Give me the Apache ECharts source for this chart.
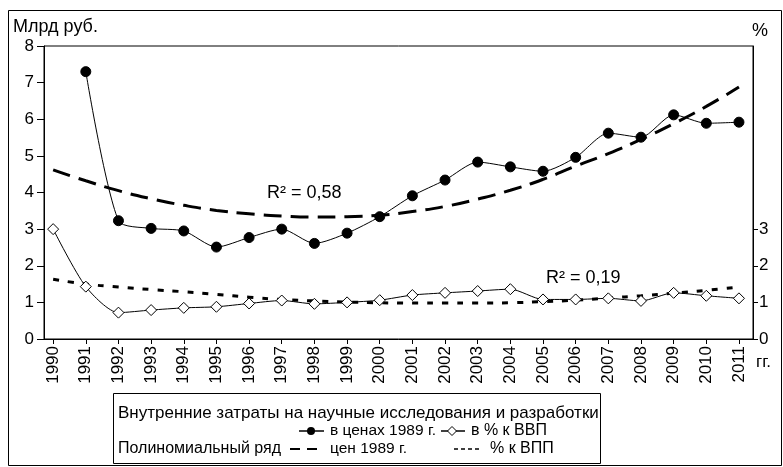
<!DOCTYPE html>
<html>
<head>
<meta charset="UTF-8">
<title>Внутренние затраты на НИОКР</title>
<script src="https://cdn.jsdelivr.net/npm/echarts@6/dist/echarts.min.js"></script>
<style>
  html, body { margin: 0; padding: 0; background: #fff; }
  #main { width: 783px; height: 467px; }
</style>
</head>
<body>
<div id="main"></div>
<script>
// годы
var years = [1990, 1991, 1992, 1993, 1994, 1995, 1996, 1997, 1998, 1999, 2000,
             2001, 2002, 2003, 2004, 2005, 2006, 2007, 2008, 2009, 2010, 2011];
// млрд руб. в ценах 1989 г. (за 1990 нет точки)
var costs = [null, 7.30, 3.23, 3.02, 2.95, 2.51, 2.77, 3.00, 2.61, 2.89, 3.34,
             3.91, 4.34, 4.83, 4.70, 4.58, 4.96, 5.62, 5.51, 6.12, 5.89, 5.92];
// в % к ВВП
var pctGdp = [3.00, 1.43, 0.72, 0.79, 0.85, 0.88, 0.97, 1.05, 0.96, 1.00, 1.06,
              1.20, 1.26, 1.31, 1.36, 1.08, 1.08, 1.11, 1.04, 1.26, 1.18, 1.11];
// полиномиальный тренд (цены 1989 г.)
var trendCost = [4.62, 4.32, 4.05, 3.83, 3.65, 3.51, 3.42, 3.36, 3.33, 3.34, 3.38,
                 3.48, 3.62, 3.82, 4.06, 4.36, 4.72, 5.06, 5.45, 5.88, 6.35, 6.88];
// полиномиальный тренд (% к ВВП)
var trendPct = [1.63, 1.50, 1.42, 1.35, 1.29, 1.22, 1.14, 1.08, 1.04, 1.01, 0.99,
                0.98, 0.98, 0.98, 0.99, 1.02, 1.06, 1.12, 1.18, 1.25, 1.33, 1.42];
var leftTicks = [0, 1, 2, 3, 4, 5, 6, 7, 8];
var rightTicks = [0, 1, 2, 3];

function pairs(arr) {
  var out = [];
  for (var i = 0; i < years.length; i++) {
    if (arr[i] != null) out.push([years[i], arr[i]]);
  }
  return out;
}

var FONT = '"Liberation Sans", Arial, sans-serif';
function txt(s, x, y, size, align) {
  return {
    type: 'text', silent: true,
    style: {
      text: s, x: x, y: y, fontFamily: FONT, fontSize: size || 16, fill: '#000',
      align: align || 'left', verticalAlign: 'middle'
    }
  };
}

var myChart = echarts.init(document.getElementById('main'));

var option = {
  animation: false,
  backgroundColor: '#fff',
  textStyle: { fontFamily: FONT },
  grid: {
    left: 44, top: 46, right: 30, bottom: 128,
    show: true, borderColor: '#000', borderWidth: 1, backgroundColor: 'transparent'
  },
  xAxis: {
    type: 'value',
    min: 1989.72,
    max: 2011.43,
    splitLine: { show: false },
    axisLine: { lineStyle: { color: '#000', width: 1 } },
    axisTick: { show: true, length: 5, customValues: years, lineStyle: { color: '#000' } },
    axisLabel: {
      customValues: years, rotate: 90, margin: 7,
      fontFamily: FONT, fontSize: 17, color: '#000',
      formatter: function(v) { return String(Math.round(v)); }
    }
  },
  yAxis: [{
    type: 'value', min: 0, max: 8, interval: 1, position: 'left',
    splitLine: { show: false },
    axisLine: { show: true, lineStyle: { color: '#000', width: 1 } },
    axisTick: { show: true, length: 7, customValues: leftTicks, lineStyle: { color: '#000' } },
    axisLabel: { customValues: leftTicks, margin: 10, fontFamily: FONT, fontSize: 17, color: '#000' }
  }, {
    type: 'value', min: 0, max: 8, interval: 1, position: 'right',
    splitLine: { show: false },
    axisLine: { show: true, lineStyle: { color: '#000', width: 1 } },
    axisTick: { show: true, length: 5, customValues: rightTicks, lineStyle: { color: '#000' } },
    axisLabel: { customValues: rightTicks, margin: 6, fontFamily: FONT, fontSize: 17, color: '#000' }
  }],
  series: [{
    name: 'цен 1989 г.',
    type: 'line', yAxisIndex: 0, smooth: true, symbol: 'none',
    lineStyle: { color: '#000', width: 3, type: [18, 9] },
    data: pairs(trendCost), z: 2
  }, {
    name: '% к ВПП',
    type: 'line', yAxisIndex: 1, smooth: true, symbol: 'none',
    lineStyle: { color: '#000', width: 3, type: [6, 9] },
    data: pairs(trendPct), z: 2
  }, {
    name: 'в ценах 1989 г.',
    type: 'line', yAxisIndex: 0, smooth: 0.25,
    symbol: 'circle', symbolSize: 10,
    itemStyle: { color: '#000', borderColor: '#000' },
    lineStyle: { color: '#000', width: 1 },
    data: pairs(costs), z: 3
  }, {
    name: 'в % к ВВП',
    type: 'line', yAxisIndex: 1, smooth: 0.25,
    symbol: 'diamond', symbolSize: 11,
    itemStyle: { color: '#fff', borderColor: '#000', borderWidth: 1 },
    lineStyle: { color: '#000', width: 1 },
    data: pairs(pctGdp), z: 3
  }],
  graphic: [
    // рамка всего рисунка
    { type: 'rect', shape: { x: 8.5, y: 10.5, width: 773, height: 455 },
      style: { fill: null, stroke: '#000', lineWidth: 1 }, silent: true },
    txt('Млрд руб.', 13, 27, 18),
    txt('%', 752, 31, 18),
    txt('гг.', 756, 362, 17),
    txt('R² = 0,58', 267, 193, 18),
    txt('R² = 0,19', 546, 278, 18),
    // легенда
    { type: 'rect', shape: { x: 113.5, y: 393.5, width: 487, height: 70 },
      style: { fill: '#fff', stroke: '#000', lineWidth: 1 }, silent: true },
    txt('Внутренние затраты на научные исследования и разработки', 118, 413, 17),
    { type: 'line', shape: { x1: 299, y1: 431, x2: 324, y2: 431 }, style: { stroke: '#000', lineWidth: 1.5 } },
    { type: 'circle', shape: { cx: 311, cy: 431, r: 4 }, style: { fill: '#000' } },
    txt('в ценах 1989 г.', 330, 431, 15.5),
    { type: 'line', shape: { x1: 441, y1: 431, x2: 465, y2: 431 }, style: { stroke: '#000', lineWidth: 1.5 } },
    { type: 'polygon', shape: { points: [[452, 426.5], [456.5, 431], [452, 435.5], [447.5, 431]] },
      style: { fill: '#fff', stroke: '#000', lineWidth: 1 } },
    txt('в % к ВВП', 471, 431),
    txt('Полиномиальный ряд', 118, 449),
    { type: 'line', shape: { x1: 290, y1: 449, x2: 319, y2: 449 },
      style: { stroke: '#000', lineWidth: 2, lineDash: [10, 7] } },
    txt('цен 1989 г.', 330, 449, 15.5),
    { type: 'line', shape: { x1: 454, y1: 449, x2: 481, y2: 449 },
      style: { stroke: '#000', lineWidth: 1.5, lineDash: [4, 3] } },
    txt('% к ВПП', 490, 449)
  ]
};

myChart.setOption(option);
</script>
</body>
</html>
